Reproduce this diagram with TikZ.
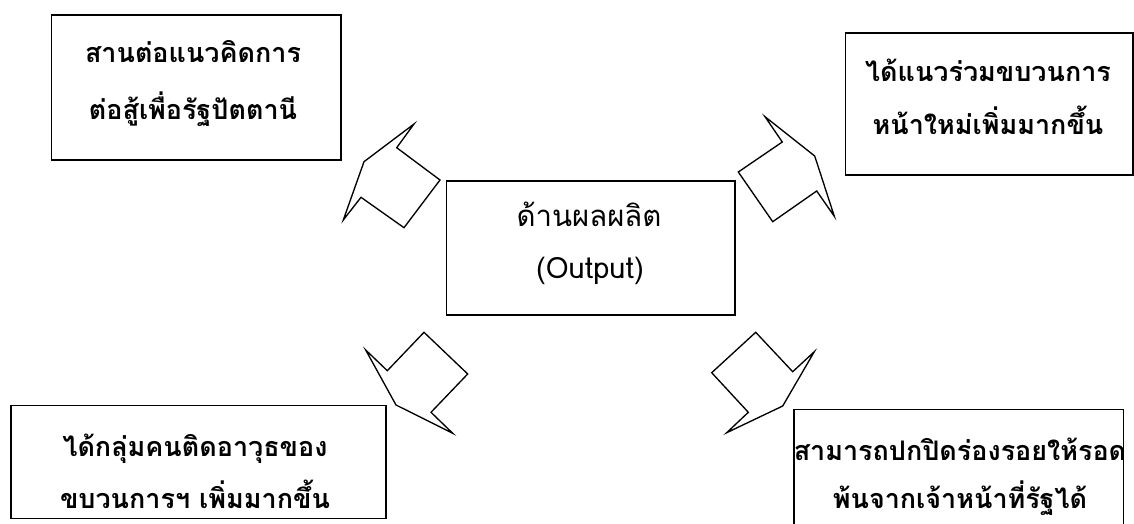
\documentclass[tikz,border=0pt]{standalone}
\usepackage{fontspec}
\newfontfamily\thai[Script=Thai]{Loma}
\begin{document}
\begin{tikzpicture}[x=0.75pt,y=-0.75pt,
  boxline/.style={line width=1.2pt},
  arrowshape/.style={line width=1pt,line join=miter},
  boxtext/.style={anchor=base,inner sep=0pt,font=\thai\bfseries\fontsize{20.2}{24}\selectfont},
  midtext/.style={anchor=base,inner sep=0pt,font=\thai\fontsize{22}{26}\selectfont}]
\clip (0,0) rectangle (1134,524);
% boxes
\draw[boxline] (51.3,15) rectangle (340.7,160);
\draw[boxline] (845.5,33.3) rectangle (1132.7,175);
\draw[boxline] (446.3,180.7) rectangle (735,315);
\draw[boxline] (11,405.5) rectangle (386,518.3);
\draw[boxline] (794,409.3) rectangle (1123.3,560);
% texts
\node[boxtext] (t1a) at (193,63) {สานต่อแนวคิดการ};
\node[boxtext] (t1b) at (193,120) {ต่อสู้เพื่อรัฐปัตตานี};
\node[boxtext] (t2a) at (988,81.7) {ได้แนวร่วมขบวนการ};
\node[boxtext] (t2b) at (988,135) {หน้าใหม่เพิ่มมากขึ้น};
\node[midtext] (tca) at (589,226.7) {ด้านผลผลิต};
\node[midtext] (tcb) at (590,278) {(Output)};
\node[boxtext] (t4a) at (195,456.7) {ได้กลุ่มคนติดอาวุธของ};
\node[boxtext] (t4b) at (195,508.3) {ขบวนการฯ เพิ่มมากขึ้น};
\node[boxtext] (t5a) at (960,460) {สามารถปกปิดร่องรอยให้รอด};
\node[boxtext] (t5b) at (960,508.3) {พ้นจากเจ้าหน้าที่รัฐได้};
% arrow shapes
\draw[arrowshape] (414,124) -- (396.7,147.7) -- (440,180) -- (404,227.7) -- (361,197.3) -- (343.3,220) -- (364,161.7) -- cycle;
\draw[arrowshape] (765,116.7) -- (782.3,142) -- (738.3,172) -- (772.7,221.7) -- (816.7,191) -- (834.3,216.3) -- (814.7,156) -- cycle;
\draw[arrowshape] (365.7,350) -- (387.3,370.7) -- (424,332.3) -- (467.7,374) -- (431,412.3) -- (452.7,433.3) -- (396,405) -- cycle;
\draw[arrowshape] (755.7,332.3) -- (792.7,371.7) -- (814.3,351.7) -- (782.7,406) -- (726.7,432.7) -- (748.3,412.3) -- (711.7,372.7) -- cycle;
\end{tikzpicture}
\end{document}
